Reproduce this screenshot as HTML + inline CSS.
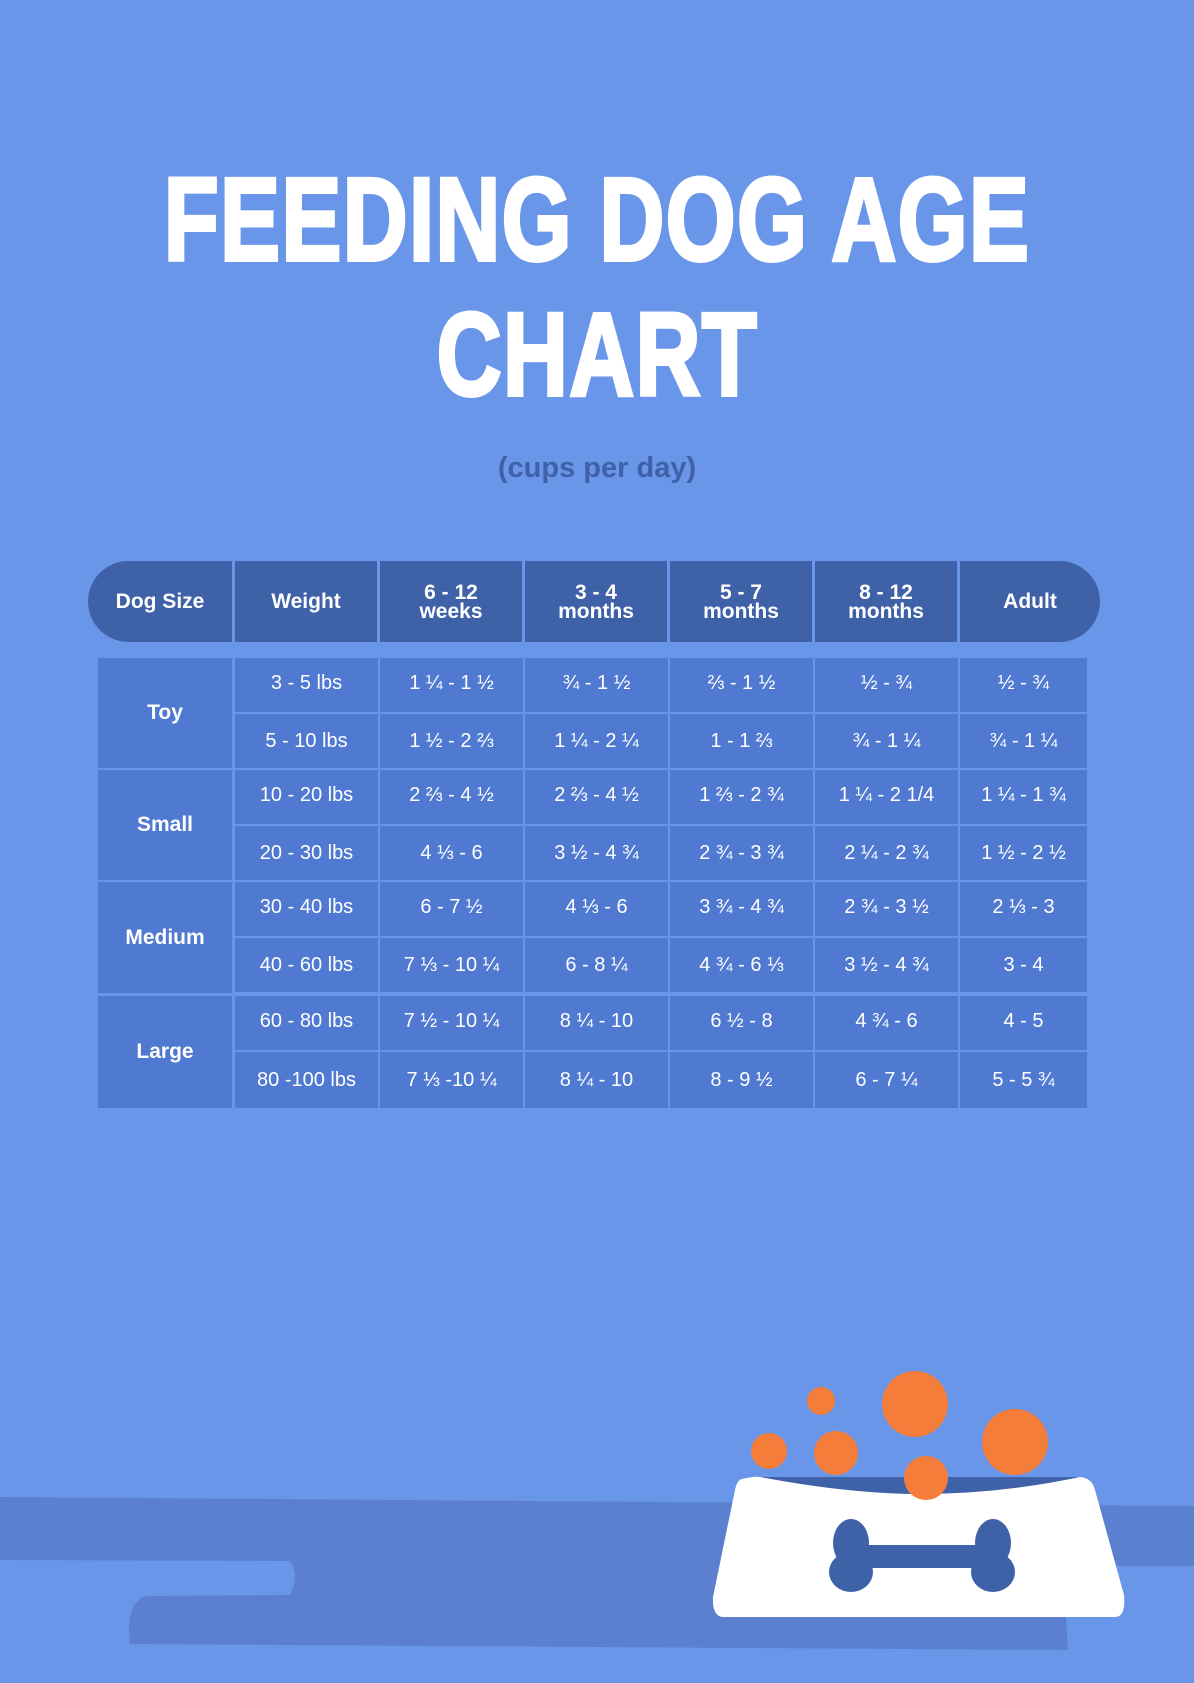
<!DOCTYPE html>
<html><head><meta charset="utf-8"><style>
*{margin:0;padding:0;box-sizing:border-box}
body{width:1194px;height:1683px;background:#6a96e9;position:relative;overflow:hidden;font-family:"Liberation Sans",sans-serif;color:#fff}
.t{position:absolute;left:0;width:1194px;text-align:center;font-weight:900;font-size:118px;line-height:130px;letter-spacing:2px}
.t span{display:inline-block;transform:scaleX(0.76);-webkit-text-stroke:4px #fff}
.sub{position:absolute;top:452px;width:1194px;text-align:center;color:#3f61a8;font-weight:bold;font-size:29px}
.c{position:absolute;display:flex;align-items:center;justify-content:center;text-align:center}
.h{background:#3f61a8;font-weight:bold;font-size:21px;line-height:19px;top:561px;height:81px}
.b{background:#5079d1;font-size:20px;height:54px}
.g{background:#5079d1;font-weight:bold;font-size:21px}
</style></head><body>
<div class="t" style="top:155px"><span>FEEDING DOG AGE</span></div>
<div class="t" style="top:290px"><span>CHART</span></div>
<div class="sub">(cups per day)</div>

<div class="c h" style="left:88px;width:144px;border-radius:41px 0 0 41px">Dog Size</div>
<div class="c h" style="left:235px;width:142px">Weight</div>
<div class="c h" style="left:380px;width:142px">6 - 12<br>weeks</div>
<div class="c h" style="left:525px;width:142px">3 - 4<br>months</div>
<div class="c h" style="left:670px;width:142px">5 - 7<br>months</div>
<div class="c h" style="left:815px;width:142px">8 - 12<br>months</div>
<div class="c h" style="left:960px;width:140px;border-radius:0 41px 41px 0">Adult</div>

<div class="c g" style="left:98px;top:658px;width:134px;height:110px">Toy</div>
<div class="c g" style="left:98px;top:770px;width:134px;height:110px">Small</div>
<div class="c g" style="left:98px;top:882px;width:134px;height:111px">Medium</div>
<div class="c g" style="left:98px;top:996px;width:134px;height:112px">Large</div>

<div id="rows"></div>
<script>
var d=[["3 - 5 lbs","1 ¼ - 1 ½","¾ - 1 ½","⅔ - 1 ½","½ - ¾","½ - ¾"],
["5 - 10 lbs","1 ½ - 2 ⅔","1 ¼ - 2 ¼","1 - 1 ⅔","¾ - 1 ¼","¾ - 1 ¼"],
["10 - 20 lbs","2 ⅔ - 4 ½","2 ⅔ - 4 ½","1 ⅔ - 2 ¾","1 ¼ - 2 1/4","1 ¼ - 1 ¾"],
["20 - 30 lbs","4 ⅓ - 6","3 ½ - 4 ¾","2 ¾ - 3 ¾","2 ¼ - 2 ¾","1 ½ - 2 ½"],
["30 - 40 lbs","6 - 7 ½","4 ⅓ - 6","3 ¾ - 4 ¾","2 ¾ - 3 ½","2 ⅓ - 3"],
["40 - 60 lbs","7 ⅓ - 10 ¼","6 - 8 ¼","4 ¾ - 6 ⅓","3 ½ - 4 ¾","3 - 4"],
["60 - 80 lbs","7 ½ - 10 ¼","8 ¼ - 10","6 ½ - 8","4 ¾ - 6","4 - 5"],
["80 -100 lbs","7 ⅓ -10 ¼","8 ¼ - 10","8 - 9 ½","6 - 7 ¼","5 - 5 ¾"]];
var L=[235,380,525,670,815,960],W=[143,143,143,143,143,127],tops=[658,714,770,826,882,938,996,1052],h="";
for(var r=0;r<8;r++)for(var c=0;c<6;c++)h+='<div class="c b" style="left:'+L[c]+'px;top:'+tops[r]+'px;width:'+W[c]+'px;height:'+(r==7?56:54)+'px;padding-bottom:'+(r%2==0?4:0)+'px">'+d[r][c]+'</div>';
document.getElementById("rows").innerHTML=h;
</script>

<svg style="position:absolute;left:0;top:0" width="1194" height="1683">
<path d="M0 1497 L1194 1506 L1194 1566 L1040 1566 L1065 1600 L1068 1650 L1062 1650 L130 1644 Q125 1600 148 1596 L290 1595 Q300 1575 290 1561 L0 1560 Z" fill="#5a80cf"/>
<g fill="#f47d3a">
<circle cx="821" cy="1401" r="14"/><circle cx="915" cy="1404" r="33"/><circle cx="1015" cy="1442" r="33"/>
<circle cx="769" cy="1451" r="18"/><circle cx="836" cy="1453" r="22"/>
</g>
<path d="M742 1479 Q755 1476 760 1477 L1080 1477 Q1092 1478 1095 1490 L1124 1595 Q1126 1617 1115 1617 L722 1617 Q712 1615 713 1597 L735 1490 Q737 1480 742 1479 Z" fill="#fff"/>
<path d="M760 1477 Q850 1494 920 1494 Q1000 1494 1080 1477 Z" fill="#3f61a8"/>
<circle cx="926" cy="1478" r="22" fill="#f47d3a"/>
<g fill="#3f61a8">
<ellipse cx="851" cy="1543" rx="18" ry="24"/><ellipse cx="851" cy="1572" rx="22" ry="20"/>
<ellipse cx="993" cy="1543" rx="18" ry="24"/><ellipse cx="993" cy="1572" rx="22" ry="20"/>
<rect x="860" y="1545" width="124" height="23"/>
</g>
</svg>
</body></html>
